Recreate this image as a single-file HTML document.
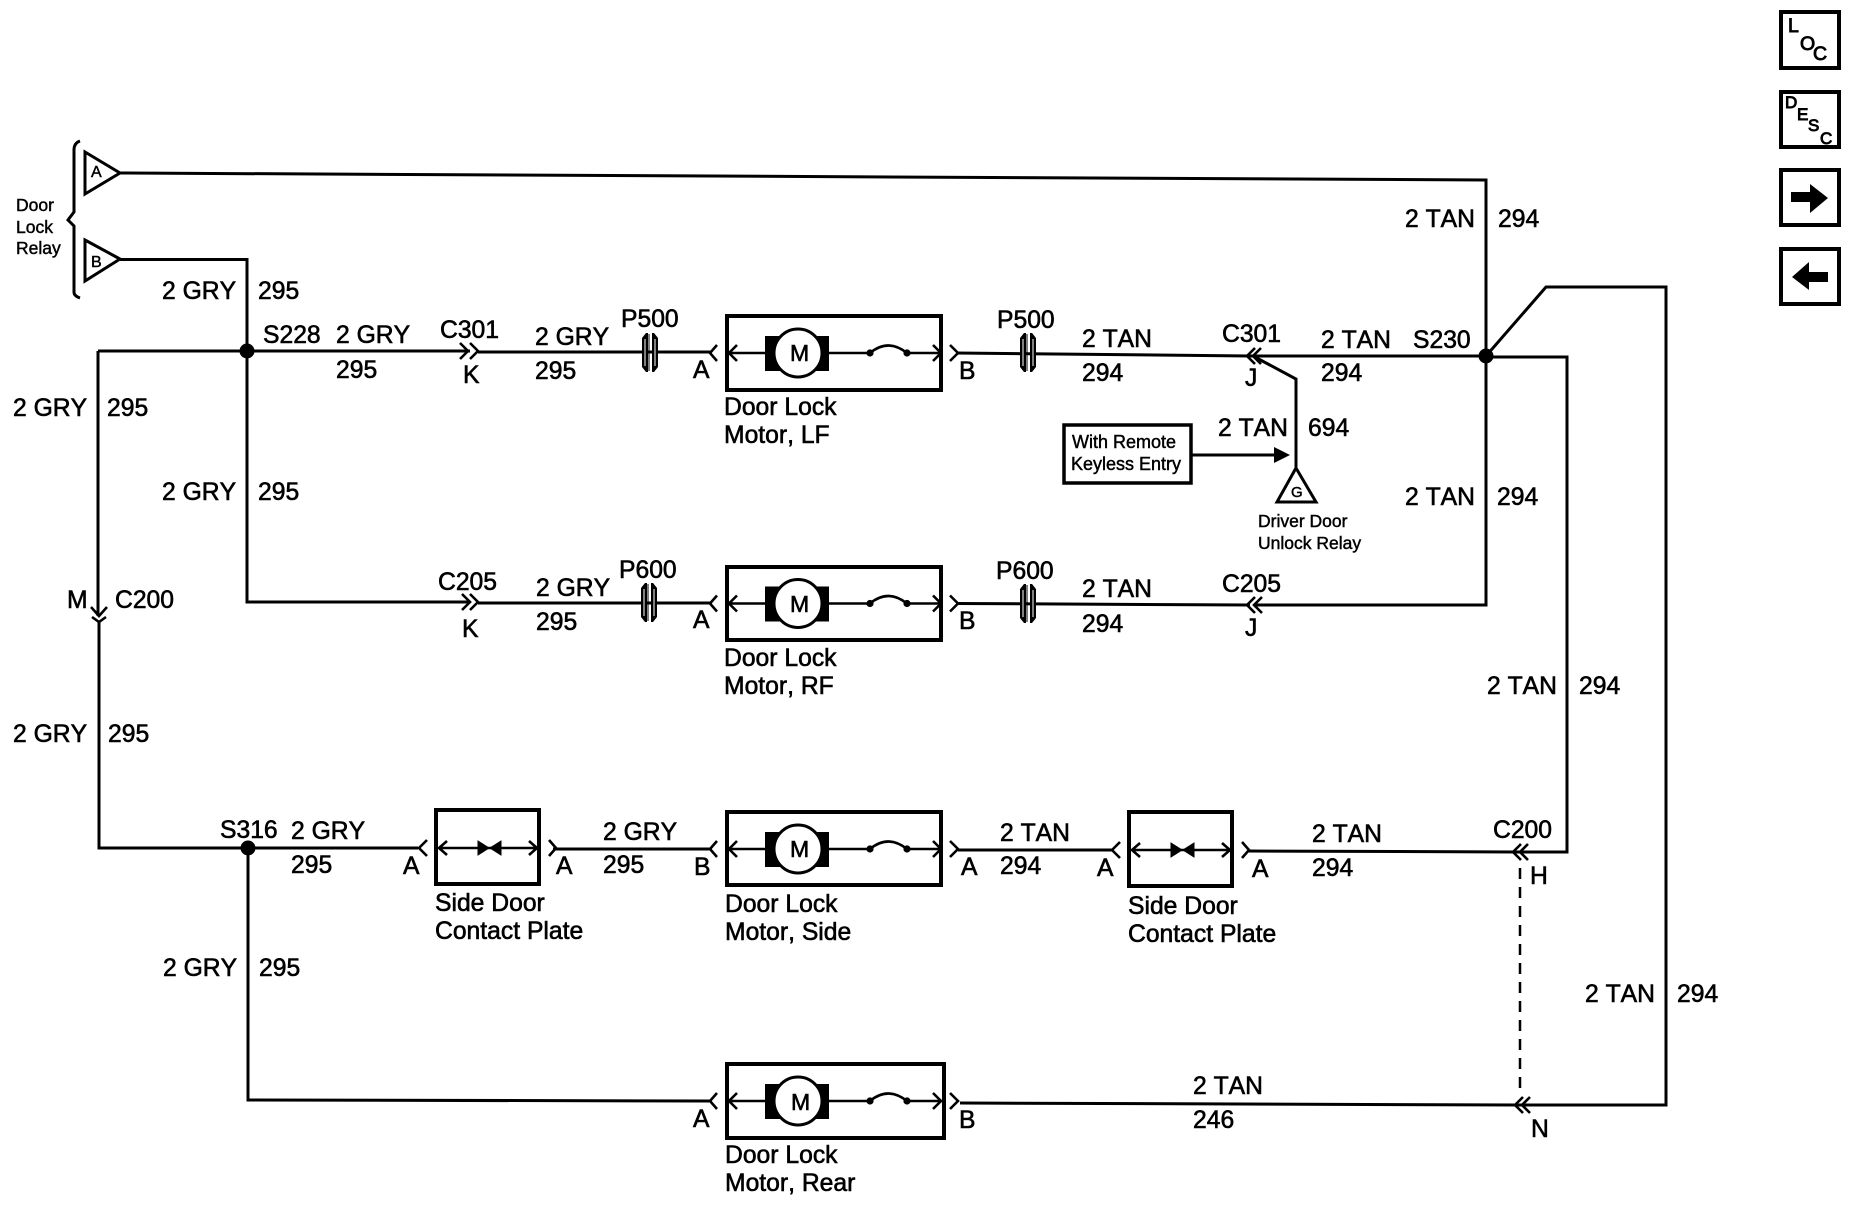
<!DOCTYPE html>
<html><head><meta charset="utf-8"><style>
html,body{margin:0;padding:0;background:#fff}
svg{display:block}
text{font-family:"Liberation Sans",sans-serif;fill:#000;stroke:#000;stroke-width:.6px;font-kerning:none}
.t{font-size:24.7px}.s{font-size:17.5px;stroke-width:.45px}.r{font-size:18px;stroke-width:.45px}.i{font-size:19.5px;stroke-width:.9px}
.w{fill:none;stroke:#000;stroke-width:3}
.c{fill:none;stroke:#000;stroke-width:2.6}
</style></head><body>
<svg width="1850" height="1216" viewBox="0 0 1850 1216" xmlns="http://www.w3.org/2000/svg">
<defs>
<g id="motor">
<path class="c" d="M729,0H942M737,-8L729,0L737,8M933,-8L941,0L933,8"/>
<rect x="765" y="-17" width="64" height="35" fill="#000"/>
<circle cx="798" cy="0" r="24" fill="#fff" stroke="#000" stroke-width="3"/>
<rect x="872" y="-5" width="33" height="7" fill="#fff"/>
<path class="c" d="M870,0Q888,-15 907,0"/>
<circle cx="870" cy="0" r="3.6"/><circle cx="907" cy="0" r="3.6"/>
<path class="c" d="M717,-8L710,0L717,8M950,-8L958,0L950,8"/>
</g>
<g id="plate">
<rect x="0" y="-38" width="103" height="74" fill="none" stroke="#000" stroke-width="4"/>
<path class="c" d="M3,0H101M11,-7L3,0L11,7M93,-7L101,0L93,7"/>
<path d="M42,-7L53,0L42,7ZM65,-7L54,0L65,7Z" stroke="#000"/>
<path class="c" d="M-9,-8L-17,0L-9,8M113,-8L120,0L113,8"/>
</g>
<g id="pc">
<path d="M646,-20L642,-15V14L646,19H648V-20Z"/>
<path d="M652,-20V19H654L658,14V-15L654,-20Z"/>
<path d="M649,-19V18" stroke="#000" stroke-width="1"/>
<path d="M645,-14V13M655,-14V13" stroke="#fff" stroke-width="1"/>
</g>
</defs>

<!-- wires -->
<path class="w" d="M120,173L1486,180V605H1256"/>
<path class="w" d="M120,259.500H247V602H470"/>
<path class="w" d="M98,351H470"/>
<path class="w" d="M98,351V616"/>
<path class="w" d="M99,621V848H248V1100L712,1101"/>
<path class="w" d="M478,352H712"/>
<path class="w" d="M478,603H712"/>
<path class="w" d="M956,353L1250,356H1486L1546,287H1666V1105H1518L960,1103"/>
<path class="w" d="M1486,357H1567V852H1516L1248,851"/>
<path class="w" d="M956,603.500L1250,605"/>
<path class="w" d="M250,848H418M553,849H712M958,850H1112"/>
<path class="w" d="M1253,356L1296,379V467"/>
<path d="M1520,868V1096" stroke="#000" stroke-width="2.500" stroke-dasharray="11 8" fill="none"/>
<circle cx="247" cy="351" r="7.500"/><circle cx="1486" cy="356" r="7.500"/><circle cx="248" cy="848" r="7.500"/>

<!-- relay triangles & brace -->
<path d="M85,152L120,173L85,194Z" fill="#fff" stroke="#000" stroke-width="3"/>
<path d="M85,240L120,259L85,281Z" fill="#fff" stroke="#000" stroke-width="3"/>
<path d="M80,141Q74,143 74,150V212L68,220L74,226V292Q74,296 80,298" class="w"/>
<text class="s" x="91" y="177" style="font-size:16px">A</text>
<text class="s" x="91" y="267" style="font-size:16px">B</text>
<text class="s" x="16" y="211">Door</text>
<text class="s" x="16" y="233">Lock</text>
<text class="s" x="16" y="254">Relay</text>

<!-- chevrons -->
<path class="c" d="M460,343L468,351L460,359M470,343L478,351L470,359"/>
<path class="c" d="M462,594L470,602L462,610M470,594L478,602L470,610"/>
<path class="c" d="M1255,348L1247,356L1255,364M1261,348L1253,356L1261,364"/>
<path class="c" d="M1255,597L1247,605L1255,613M1262,597L1254,605L1262,613"/>
<path class="c" d="M1521,844L1513,852L1521,860M1528,844L1520,852L1528,860"/>
<path class="c" d="M1523,1097L1515,1105L1523,1113M1530,1097L1522,1105L1530,1113"/>
<path class="c" d="M91,607L99,616L107,607M92,617L99,622L106,617"/>

<!-- motors -->
<rect x="727" y="316" width="214" height="74" fill="none" stroke="#000" stroke-width="4"/>
<rect x="727" y="567" width="214" height="73" fill="none" stroke="#000" stroke-width="4"/>
<rect x="727" y="812" width="214" height="73" fill="none" stroke="#000" stroke-width="4"/>
<rect x="727" y="1064" width="217" height="74" fill="none" stroke="#000" stroke-width="4"/>
<use href="#motor" y="353"/>
<use href="#motor" y="603.500"/>
<use href="#motor" y="849"/>
<use href="#motor" y="1101"/>
<text class="t" x="790" y="361" style="font-size:23px">M</text>
<text class="t" x="790" y="612" style="font-size:23px">M</text>
<text class="t" x="790" y="857" style="font-size:23px">M</text>
<text class="t" x="791" y="1110" style="font-size:23px">M</text>

<!-- plates -->
<use href="#plate" x="436" y="848"/>
<use href="#plate" x="1129" y="850"/>

<!-- P connectors -->
<use href="#pc" x="0" y="353"/>
<use href="#pc" x="378" y="353"/>
<use href="#pc" x="-1" y="603"/>
<use href="#pc" x="378" y="604"/>

<!-- remote keyless -->
<rect x="1064" y="425" width="127" height="58" fill="none" stroke="#000" stroke-width="3.500"/>
<path class="w" d="M1191,455H1276"/>
<path d="M1274,447L1290,455L1274,463Z"/>
<path d="M1296,468L1277,502H1316Z" fill="#fff" stroke="#000" stroke-width="3"/>
<text class="r" x="1072" y="448">With Remote</text>
<text class="r" x="1071" y="470">Keyless Entry</text>
<text class="s" x="1291" y="497" style="font-size:15px">G</text>
<text class="s" x="1258" y="527">Driver Door</text>
<text class="s" x="1258" y="549">Unlock Relay</text>

<!-- labels -->
<g class="t">
<text class="t" x="162" y="299">2 GRY</text><text class="t" x="258" y="299">295</text>
<text class="t" x="263" y="343">S228</text><text class="t" x="336" y="343">2 GRY</text><text class="t" x="336" y="378">295</text>
<text class="t" x="440" y="338">C301</text><text class="t" x="463" y="383">K</text>
<text class="t" x="13" y="416">2 GRY</text><text class="t" x="107" y="416">295</text>
<text class="t" x="162" y="500">2 GRY</text><text class="t" x="258" y="500">295</text>
<text class="t" x="535" y="345">2 GRY</text><text class="t" x="535" y="379">295</text>
<text class="t" x="621" y="327">P500</text><text class="t" x="693" y="378">A</text><text class="t" x="959" y="379">B</text>
<text class="t" x="997" y="328">P500</text>
<text class="t" x="724" y="415">Door Lock</text><text class="t" x="724" y="443">Motor, LF</text>
<text class="t" x="1082" y="347">2 TAN</text><text class="t" x="1082" y="381">294</text>
<text class="t" x="1222" y="342">C301</text><text class="t" x="1245" y="386">J</text>
<text class="t" x="1321" y="348">2 TAN</text><text class="t" x="1321" y="381">294</text><text class="t" x="1413" y="348">S230</text>
<text class="t" x="1218" y="436">2 TAN</text><text class="t" x="1308" y="436">694</text>
<text class="t" x="1405" y="227">2 TAN</text><text class="t" x="1498" y="227">294</text>
<text class="t" x="1405" y="505">2 TAN</text><text class="t" x="1497" y="505">294</text>

<text class="t" x="438" y="590">C205</text><text class="t" x="462" y="637">K</text>
<text class="t" x="536" y="596">2 GRY</text><text class="t" x="536" y="630">295</text>
<text class="t" x="619" y="578">P600</text><text class="t" x="693" y="628">A</text><text class="t" x="959" y="629">B</text>
<text class="t" x="996" y="579">P600</text>
<text class="t" x="724" y="666">Door Lock</text><text class="t" x="724" y="694">Motor, RF</text>
<text class="t" x="1082" y="597">2 TAN</text><text class="t" x="1082" y="632">294</text>
<text class="t" x="1222" y="592">C205</text><text class="t" x="1245" y="636">J</text>

<text class="t" x="67" y="608">M</text><text class="t" x="115" y="608">C200</text>
<text class="t" x="13" y="742">2 GRY</text><text class="t" x="108" y="742">295</text>
<text class="t" x="1487" y="694">2 TAN</text><text class="t" x="1579" y="694">294</text>

<text class="t" x="220" y="838">S316</text><text class="t" x="291" y="839">2 GRY</text><text class="t" x="291" y="873">295</text>
<text class="t" x="403" y="874">A</text><text class="t" x="556" y="874">A</text>
<text class="t" x="435" y="911">Side Door</text><text class="t" x="435" y="939">Contact Plate</text>
<text class="t" x="603" y="840">2 GRY</text><text class="t" x="603" y="873">295</text><text class="t" x="694" y="875">B</text>
<text class="t" x="725" y="912">Door Lock</text><text class="t" x="725" y="940">Motor, Side</text>
<text class="t" x="961" y="875">A</text><text class="t" x="1000" y="841">2 TAN</text><text class="t" x="1000" y="874">294</text><text class="t" x="1097" y="876">A</text>
<text class="t" x="1252" y="877">A</text><text class="t" x="1128" y="914">Side Door</text><text class="t" x="1128" y="942">Contact Plate</text>
<text class="t" x="1312" y="842">2 TAN</text><text class="t" x="1312" y="876">294</text>
<text class="t" x="1493" y="838">C200</text><text class="t" x="1530" y="884">H</text>

<text class="t" x="163" y="976">2 GRY</text><text class="t" x="259" y="976">295</text>
<text class="t" x="693" y="1127">A</text><text class="t" x="959" y="1128">B</text>
<text class="t" x="725" y="1163">Door Lock</text><text class="t" x="725" y="1191">Motor, Rear</text>
<text class="t" x="1193" y="1094">2 TAN</text><text class="t" x="1193" y="1128">246</text>
<text class="t" x="1531" y="1137">N</text>
<text class="t" x="1585" y="1002">2 TAN</text><text class="t" x="1677" y="1002">294</text>
</g>

<!-- right icons -->
<g fill="none" stroke="#000" stroke-width="4">
<rect x="1781" y="12" width="58" height="56"/>
<rect x="1781" y="92" width="58" height="55"/>
<rect x="1781" y="170" width="58" height="55"/>
<rect x="1781" y="249" width="58" height="55"/>
</g>
<text class="i" x="1788" y="32">L</text><text class="i" x="1800" y="50">O</text><text class="i" x="1813" y="60">C</text>
<text class="i" x="1785" y="108" style="font-size:17px">D</text><text class="i" x="1797" y="120" style="font-size:17px">E</text><text class="i" x="1808" y="131" style="font-size:17px">S</text><text class="i" x="1820" y="144" style="font-size:17px">C</text>
<path d="M1791,192H1810V184L1828,198L1810,213V202H1791Z"/>
<path d="M1828,272H1809V262L1792,277L1809,290V282H1828Z"/>
</svg>
</body></html>
